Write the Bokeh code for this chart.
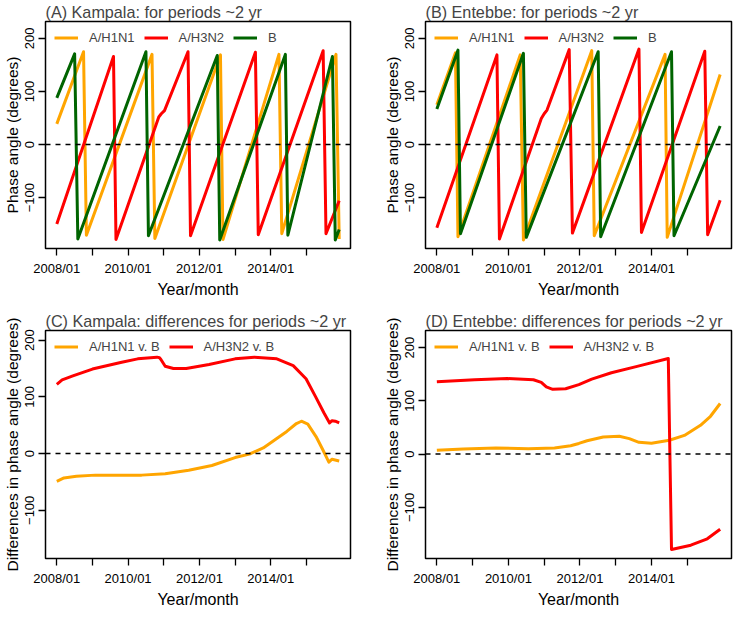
from bokeh.plotting import figure
from bokeh.models import FixedTicker, Span, Legend, LegendItem, Range1d
from bokeh.layouts import column, row
from bokeh.embed import file_html
from bokeh.resources import INLINE

# ---------------- data (decimal year, degrees) ----------------
kam_h1n1_x = [2008.0, 2008.75, 2008.83, 2010.67, 2010.75, 2012.59, 2012.66, 2014.23, 2014.31, 2015.83, 2015.92]
kam_h1n1_y = [39, 175, -171, 170, -177, 169, -179, 170, -168, 170, -178]
kam_h3n2_x = [2008.0, 2009.59, 2009.66, 2010.86, 2010.93, 2011.02, 2011.68, 2011.75, 2013.57, 2013.65, 2015.47, 2015.55, 2015.92]
kam_h3n2_y = [-150, 166, -179, 52, 58, 64, 175, -172, 174, -170, 177, -168, -106]
kam_b_x = [2008.0, 2008.5, 2008.59, 2010.5, 2010.57, 2012.5, 2012.57, 2014.41, 2014.48, 2015.73, 2015.81, 2015.92]
kam_b_y = [88, 171, -178, 175, -172, 168, -180, 170, -171, 166, -180, -160]

ent_h1n1_x = [2008.0, 2008.52, 2008.59, 2010.33, 2010.42, 2012.33, 2012.4, 2014.38, 2014.44, 2015.92]
ent_h1n1_y = [75, 173, -174, 169, -180, 177, -172, 170, -175, 132]
ent_h3n2_x = [2008.0, 2009.68, 2009.75, 2010.92, 2011.0, 2011.08, 2011.7, 2011.79, 2013.65, 2013.72, 2015.49, 2015.57, 2015.92]
ent_h3n2_y = [-157, 169, -178, 49, 58, 65, 179, -167, 180, -166, 176, -170, -105]
ent_b_x = [2008.0, 2008.59, 2008.66, 2010.42, 2010.5, 2012.51, 2012.58, 2014.56, 2014.63, 2015.92]
ent_b_y = [67, 178, -168, 172, -175, 175, -174, 175, -172, 35]

kd_h1n1_x = [2008.0, 2008.2, 2008.55, 2009.08, 2010.38, 2011.04, 2011.7, 2012.35, 2013.0, 2013.4, 2013.79,
             2014.18, 2014.45, 2014.72, 2014.86, 2015.04, 2015.27, 2015.45, 2015.63, 2015.72, 2015.92]
kd_h1n1_y = [-49, -43, -40, -38, -38, -35.6, -29.4, -21, -7, -1, 10, 27, 39, 53, 57, 52, 30, 8, -15, -10, -13]
kd_h3n2_x = [2008.0, 2008.15, 2008.45, 2009.0, 2009.82, 2010.27, 2010.81, 2010.88, 2010.92, 2011.04, 2011.27,
             2011.63, 2012.27, 2013.0, 2013.54, 2014.17, 2014.63, 2014.99, 2015.26, 2015.49, 2015.65, 2015.72,
             2015.81, 2015.92]
kd_h3n2_y = [122, 130, 137, 149, 161, 167, 170, 169, 166, 154, 150, 150, 157, 167, 170, 167, 155, 132, 100,
             72, 54, 58, 57, 54]

ed_h1n1_x = [2008.0, 2008.74, 2009.65, 2010.56, 2011.29, 2011.74, 2011.97, 2012.2, 2012.65, 2013.1, 2013.38,
             2013.65, 2014.0, 2014.5, 2014.92, 2015.37, 2015.65, 2015.92]
ed_h1n1_y = [7, 9.6, 11.4, 10.2, 11.4, 15.6, 20, 25, 32, 33.5, 29, 22, 20.5, 26, 35, 54, 71, 95]
ed_h3n2_x = [2008.0, 2009.06, 2009.97, 2010.7, 2010.92, 2011.06, 2011.24, 2011.6, 2011.97, 2012.33, 2012.88,
             2013.6, 2014.47, 2014.56, 2015.1, 2015.56, 2015.92]
ed_h3n2_y = [136, 139.5, 141.8, 139.5, 134.6, 126, 121.5, 122.6, 130.5, 140.6, 152.6, 164.6, 179.5, -179,
             -171, -159, -141]

x_ticks = [2008, 2009, 2010, 2011, 2012, 2013, 2014, 2015]
x_tick_labels = {2008: "2008/01", 2009: "", 2010: "2010/01", 2011: "", 2012: "2012/01", 2013: "",
                 2014: "2014/01", 2015: ""}
y_ticks = [-100, 0, 100, 200]
y_tick_labels = {-100: "\u2212100", 0: "0", 100: "100", 200: "200"}

ORANGE = "#FFA500"
RED = "#FF0000"
GREEN = "#006400"
FONT = "Liberation Sans"


def make_panel(title, ylabel, series, yr, w, h, bl, br, bt, bb):
    p = figure(width=w, height=h, output_backend="svg", toolbar_location=None,
               x_range=Range1d(2007.683, 2016.237), y_range=Range1d(*yr),
               min_border_left=bl, min_border_right=br, min_border_top=bt, min_border_bottom=bb)
    p.title.text = title
    p.title.text_font = FONT
    p.title.text_font_size = "16.2px"
    p.title.text_font_style = "normal"
    p.title.align = "left"
    p.title.standoff = 1
    p.title.offset = 0
    p.outline_line_color = "black"
    p.outline_line_width = 1.5
    p.xgrid.visible = False
    p.ygrid.visible = False
    p.background_fill_color = "white"
    p.border_fill_color = "white"

    for ax in (p.xaxis[0], p.yaxis[0]):
        ax.axis_line_color = None
        ax.major_tick_out = 7
        ax.major_tick_in = 0
        ax.major_tick_line_width = 1.3
        ax.minor_tick_line_color = None
        ax.major_label_text_font = FONT
        ax.major_label_text_font_size = "13px"
        ax.major_label_text_color = "black"
        ax.axis_label_text_font = FONT
        ax.axis_label_text_font_style = "normal"
        ax.axis_label_text_color = "black"

    p.xaxis.ticker = FixedTicker(ticks=x_ticks)
    p.xaxis.major_label_overrides = x_tick_labels
    p.xaxis.axis_label = "Year/month"
    p.xaxis.axis_label_text_font_size = "16px"
    p.xaxis.major_label_standoff = 5
    p.xaxis.axis_label_standoff = 2

    p.yaxis.ticker = FixedTicker(ticks=y_ticks)
    p.yaxis.major_label_overrides = y_tick_labels
    p.yaxis.major_label_orientation = "vertical"
    p.yaxis.axis_label = ylabel
    p.yaxis.axis_label_text_font_size = "15.5px"
    p.yaxis.major_label_standoff = 4
    p.yaxis.axis_label_standoff = 2

    p.add_layout(Span(location=0, dimension="width", line_color="black",
                      line_dash="5 5", line_width=1.5))

    items = []
    for name, xs, ys, col in series:
        r = p.line(xs, ys, line_color=col, line_width=3, line_join="round")
        items.append(LegendItem(label=name, renderers=[r]))
    leg = Legend(items=items, location="top_left", orientation="horizontal",
                 margin=0, padding=9, spacing=9, label_standoff=11,
                 glyph_width=24, glyph_height=13, label_height=13,
                 label_text_font=FONT, label_text_font_size="13px",
                 background_fill_alpha=0, border_line_alpha=0)
    p.add_layout(leg)
    return p


pA = make_panel("(A) Kampala: for periods ~2 yr", "Phase angle (degrees)",
                [("A/H1N1", kam_h1n1_x, kam_h1n1_y, ORANGE),
                 ("A/H3N2", kam_h3n2_x, kam_h3n2_y, RED),
                 ("B", kam_b_x, kam_b_y, GREEN)],
                (-196, 232), 367, 300, 37, 17, 20, 46)
pB = make_panel("(B) Entebbe: for periods ~2 yr", "Phase angle (degrees)",
                [("A/H1N1", ent_h1n1_x, ent_h1n1_y, ORANGE),
                 ("A/H3N2", ent_h3n2_x, ent_h3n2_y, RED),
                 ("B", ent_b_x, ent_b_y, GREEN)],
                (-196, 232), 367, 300, 58, 3, 20, 46)
pC = make_panel("(C) Kampala: differences for periods ~2 yr", "Differences in phase angle (degrees)",
                [("A/H1N1 v. B", kd_h1n1_x, kd_h1n1_y, ORANGE),
                 ("A/H3N2 v. B", kd_h3n2_x, kd_h3n2_y, RED)],
                (-185, 217), 367, 310, 37, 17, 30, 46)
pD = make_panel("(D) Entebbe: differences for periods ~2 yr", "Differences in phase angle (degrees)",
                [("A/H1N1 v. B", ed_h1n1_x, ed_h1n1_y, ORANGE),
                 ("A/H3N2 v. B", ed_h3n2_x, ed_h3n2_y, RED)],
                (-196, 232), 367, 310, 58, 3, 30, 46)

layout = column(row(pA, pB), row(pC, pD))
open("out.html", "w").write(file_html(layout, INLINE))
